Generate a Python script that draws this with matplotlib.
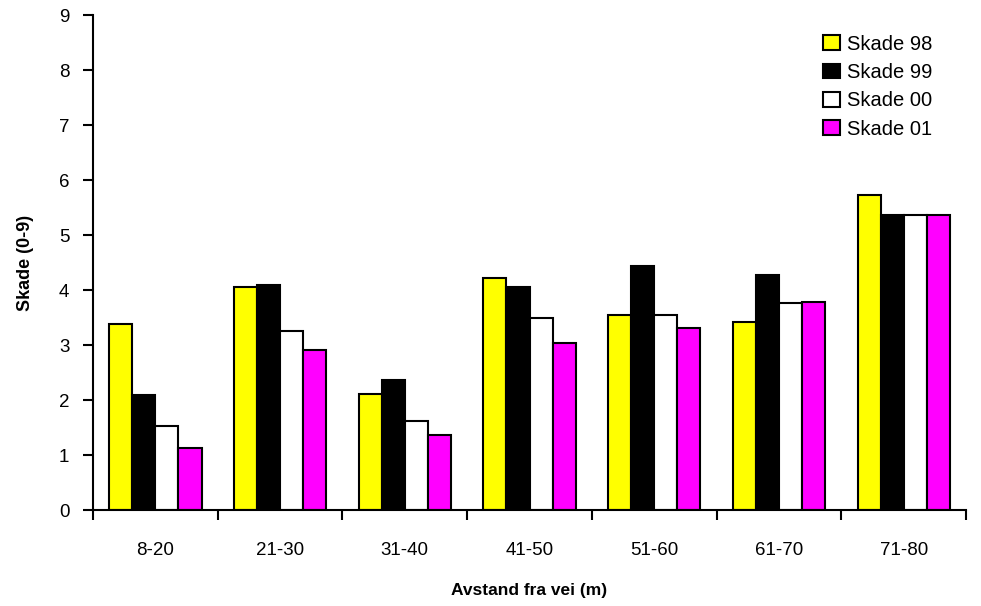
import matplotlib.pyplot as plt
import numpy as np

plt.rcParams['font.family'] = ['Liberation Sans', 'DejaVu Sans']

# data
groups = ['8-20', '21-30', '31-40', '41-50', '51-60', '61-70', '71-80']
skade_98 = [3.39, 4.06, 2.11, 4.21, 3.55, 3.41, 5.73]
skade_99 = [2.09, 4.10, 2.37, 4.05, 4.44, 4.27, 5.37]
skade_00 = [1.53, 3.25, 1.61, 3.49, 3.55, 3.76, 5.37]
skade_01 = [1.13, 2.91, 1.36, 3.04, 3.31, 3.78, 5.37]
series_names = ['Skade 98', 'Skade 99', 'Skade 00', 'Skade 01']
colors = ['#ffff00', '#000000', '#ffffff', '#ff00ff']

fig = plt.figure(figsize=(9.81, 6.06), dpi=100)
ax = fig.add_axes([0.0948, 0.1584, 0.890, 0.8168])

x = np.arange(len(groups))
w = 0.185
for i, (vals, name, c) in enumerate(zip([skade_98, skade_99, skade_00, skade_01], series_names, colors)):
    ax.bar(x + (i - 1.5) * w, vals, w, color=c, edgecolor='black', linewidth=1.5, label=name)

ax.set_xlim(-0.5, len(groups) - 0.5)
ax.set_ylim(0, 9)
ax.set_yticks(range(10))
ax.set_xticks(x)
ax.set_xticklabels(groups)
# group borders get the tick marks
ax.set_xticks(np.arange(-0.5, len(groups)), minor=True)
ax.tick_params(axis='x', which='major', length=0, pad=23, labelsize=13.5)
ax.tick_params(axis='x', which='minor', length=7, width=1.5, direction='out')
ax.tick_params(axis='y', length=7, width=1.5, direction='out', labelsize=13.5, pad=10)

for s in ['top', 'right']:
    ax.spines[s].set_visible(False)
for s in ['left', 'bottom']:
    ax.spines[s].set_linewidth(1.5)

ax.set_ylabel('Skade (0-9)', fontsize=13, fontweight='bold', labelpad=18)
ax.set_xlabel('Avstand fra vei (m)', fontsize=12.5, fontweight='bold', labelpad=17)

ax.legend(loc='upper left', bbox_to_anchor=(0.836, 0.96), frameon=False, fontsize=14.5,
          borderpad=0, borderaxespad=0,
          handlelength=0.85, handleheight=0.75, handletextpad=0.35, labelspacing=0.46)

fig.savefig('out.png', dpi=100)
